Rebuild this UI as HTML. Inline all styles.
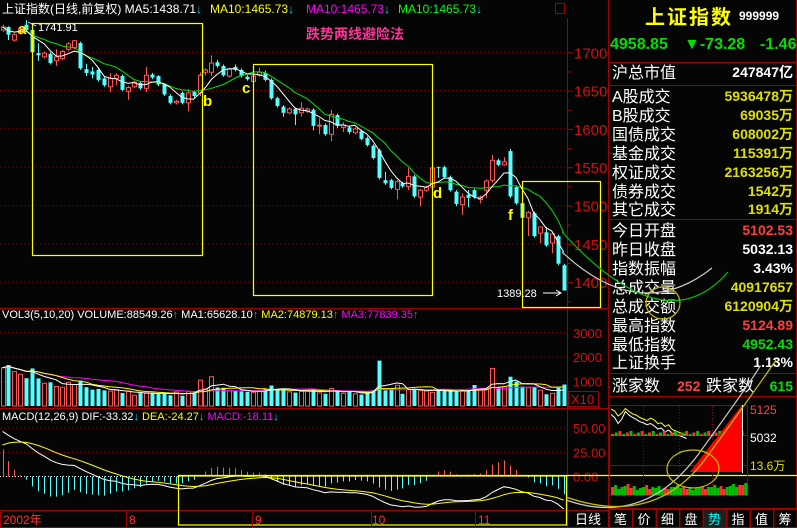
<!DOCTYPE html>
<html><head><meta charset="utf-8">
<style>
html,body{margin:0;padding:0;background:#000;}
svg{display:block;font-family:"Liberation Sans","Noto Sans CJK SC",sans-serif;}
</style></head>
<body>
<svg id="chart" width="797" height="528" viewBox="0 0 797 528" xmlns="http://www.w3.org/2000/svg">
<rect x="0" y="0" width="797" height="528" fill="#050505"/>
<g id="frame" stroke="#a00000" stroke-width="1" fill="none">
  <line x1="0" y1="308.5" x2="608" y2="308.5"/>
  <line x1="0" y1="408.5" x2="608" y2="408.5"/>
  <line x1="0" y1="510.5" x2="608" y2="510.5"/>
  <line x1="0.5" y1="510" x2="0.5" y2="528"/>
  <line x1="567.5" y1="18" x2="567.5" y2="528"/>
  <line x1="608.5" y1="0" x2="608.5" y2="528"/>
  <line x1="796.5" y1="0" x2="796.5" y2="528"/>
  <line x1="0" y1="527.5" x2="797" y2="527.5"/>
</g>
<g id="grid"></g>
<g id="axes"></g>
<g id="candles"></g>
<g id="vol"></g>
<g id="macd"></g>
<g id="lines"></g>

<!-- headers -->
<text x="2" y="13" font-size="12" fill="#ffffff">上证指数(日线,前复权) MA5:1438.71<tspan fill="#00d0ff">↓</tspan></text>
<text x="210" y="13" font-size="12" fill="#ffff00">MA10:1465.73<tspan fill="#00d0ff">↓</tspan></text>
<text x="306" y="13" font-size="12" fill="#ff00ff">MA10:1465.73<tspan fill="#00d0ff">↓</tspan></text>
<text x="398" y="13" font-size="12" fill="#00ff00">MA10:1465.73<tspan fill="#00d0ff">↓</tspan></text>
<rect x="555.5" y="3.5" width="9" height="10" fill="none" stroke="#a00000"/>
<text x="306" y="39" font-size="14" font-weight="bold" fill="#ff3399">跌势两线避险法</text>

<text x="2" y="318" font-size="11" fill="#ffffff">VOL3(5,10,20) VOLUME:88549.26<tspan fill="#ff4040">↑</tspan> MA1:65628.10<tspan fill="#ff4040">↑</tspan> <tspan fill="#ffff00">MA2:74879.13</tspan><tspan fill="#ff4040">↑</tspan> <tspan fill="#ff00ff">MA3:77839.35</tspan><tspan fill="#ff4040">↑</tspan></text>
<text x="2" y="420" font-size="11" fill="#ffffff">MACD(12,26,9) DIF:-33.32<tspan fill="#00d0ff">↓</tspan> <tspan fill="#ffff00">DEA:-24.27</tspan><tspan fill="#00d0ff">↓</tspan> <tspan fill="#ff00ff">MACD:-18.11</tspan><tspan fill="#00d0ff">↓</tspan></text>

<!-- annotations -->
<g fill="none" stroke="#ffff00" stroke-width="1.2">
  <rect x="32.5" y="23.5" width="170" height="232"/>
  <rect x="253.5" y="64.5" width="179" height="231"/>
  <rect x="522.5" y="181.5" width="78" height="126"/>
  <rect x="178.5" y="476" width="388" height="49"/>
  <line x1="178" y1="475.5" x2="797" y2="475.5"/>
</g>
<g font-size="15" font-weight="bold" fill="#ffff00">
  <text x="18" y="34">a</text>
  <text x="203" y="106">b</text>
  <text x="242" y="93">c</text>
  <text x="433" y="198">d</text>
  <text x="508" y="220">f</text>
</g>
<text x="38" y="31" font-size="11" fill="#ffffff">1741.91</text>
<line x1="28" y1="22" x2="36" y2="26" stroke="#fff" stroke-width="0.8"/>
<text x="497" y="297" font-size="11" fill="#ffffff">1389.28</text>
<path d="M543 293 L560 293 M556 290 L561 293 L556 296" stroke="#fff" fill="none"/>

<!-- bottom axis -->
<g font-size="12" fill="#ff3030">
  <text x="3" y="524">2002年</text>
  <text x="129" y="524">8</text>
  <text x="255" y="524">9</text>
  <text x="372" y="524">10</text>
  <text x="478" y="524">11</text>
</g>
<g stroke="#a00000">
  <line x1="126.5" y1="511" x2="126.5" y2="527"/><line x1="252.5" y1="511" x2="252.5" y2="527"/><line x1="371.5" y1="511" x2="371.5" y2="527"/><line x1="475.5" y1="511" x2="475.5" y2="527"/>
</g>
<text x="575" y="524" font-size="13" fill="#ffffff">日线</text>

<!-- right panel -->
<g id="panel">
  <text x="645" y="24" font-size="20" font-weight="bold" fill="#ffff00" letter-spacing="2">上证指数</text>
  <text x="739" y="20" font-size="12" font-weight="bold" fill="#ffffff">999999</text>
  <text x="610" y="49" font-size="16" font-weight="bold" fill="#00e000">4958.85</text>
  <text x="684" y="49" font-size="16" font-weight="bold" fill="#00e000">▼-73.28</text>
  <text x="760" y="49" font-size="16" font-weight="bold" fill="#00e000">-1.46</text>
  <g stroke="#a00000"><line x1="609" y1="62.5" x2="797" y2="62.5"/><line x1="609" y1="85.5" x2="797" y2="85.5"/><line x1="609" y1="219.5" x2="797" y2="219.5"/><line x1="609" y1="373.5" x2="797" y2="373.5"/><line x1="609" y1="396.5" x2="797" y2="396.5"/><line x1="609" y1="508.5" x2="797" y2="508.5"/></g>
  <g id="rows" font-size="16" fill="#ffffff"></g>
  <text x="612" y="391" font-size="16" fill="#ffffff">涨家数</text>
  <text x="677" y="391" font-size="14" font-weight="bold" fill="#ff4040">252</text>
  <text x="706" y="391" font-size="16" fill="#ffffff">跌家数</text>
  <text x="793" y="391" font-size="14" font-weight="bold" fill="#00e000" text-anchor="end">615</text>
  <g id="mini"></g>
  <g id="tabs" font-size="13" fill="#ffffff"></g>
</g>

<!-- freehand drawings -->
<g fill="none" stroke-width="1.2">
  <path d="M562 252 Q640 325 712 268" stroke="#c8c8c8"/>
  <path d="M562 232 Q665 345 728 272" stroke="#00c000"/>
  <ellipse cx="663" cy="303" rx="17" ry="16" stroke="#c8c000"/>
  <path d="M566 500 Q645 528 700 452 T760 366" stroke="#c8c8c8"/>
  <path d="M566 497 Q655 528 706 458 T776 360" stroke="#c8c000"/>
  <ellipse cx="693" cy="469" rx="26" ry="19" stroke="#c8c000"/>
</g>

<script>
const opens =[1729,1733,1716,1725,1736,1729,1699,1694,1698,1689,1692,1704,1706,1712,1678,1675,1677,1666,1655,1666,1669,1649,1655,1660,1653,1671,1669,1658,1643,1634,1647,1634,1648,1647,1674,1674,1687,1682,1669,1681,1677,1668,1662,1670,1673,1664,1640,1629,1621,1626,1621,1623,1625,1604,1605,1593,1618,1602,1602,1595,1597,1588,1578,1572,1533,1533,1521,1529,1525,1538,1511,1520,1524,1550,1550,1537,1518,1501,1514,1520,1508,1520,1533,1559,1553,1571,1524,1503,1484,1490,1464,1465,1451,1460,1422];
const closes=[1733,1723,1723,1731,1729,1700,1696,1699,1686,1694,1701,1711,1715,1679,1673,1671,1664,1657,1666,1670,1651,1654,1661,1653,1670,1667,1658,1645,1634,1636,1634,1647,1643,1670,1677,1686,1682,1670,1678,1677,1669,1665,1669,1674,1664,1640,1630,1621,1626,1619,1627,1626,1604,1605,1593,1619,1604,1605,1596,1600,1587,1579,1562,1536,1529,1523,1531,1525,1538,1512,1520,1524,1549,1549,1537,1520,1502,1511,1510,1511,1511,1532,1559,1553,1557,1512,1503,1484,1491,1460,1472,1448,1463,1424,1389];
const highs =[1736,1734,1725,1733,1742,1731,1712,1701,1700,1704,1703,1713,1716,1714,1685,1681,1679,1668,1673,1673,1671,1656,1663,1662,1681,1673,1670,1660,1645,1638,1649,1652,1650,1674,1679,1696,1690,1684,1680,1684,1679,1670,1671,1680,1676,1666,1642,1631,1628,1628,1635,1628,1627,1614,1607,1625,1620,1609,1604,1602,1599,1590,1580,1574,1544,1535,1533,1531,1549,1540,1522,1526,1550,1551,1552,1539,1520,1516,1520,1522,1513,1534,1566,1561,1563,1574,1526,1505,1493,1492,1472,1472,1465,1462,1424];
const lows  =[1727,1716,1714,1723,1727,1698,1689,1692,1684,1682,1690,1702,1704,1677,1669,1666,1662,1655,1648,1657,1649,1638,1653,1651,1648,1665,1656,1643,1632,1632,1632,1623,1641,1643,1670,1669,1680,1668,1667,1675,1667,1663,1660,1668,1662,1638,1628,1616,1619,1605,1616,1621,1598,1593,1591,1584,1601,1596,1593,1593,1585,1577,1560,1534,1527,1521,1508,1523,1520,1510,1499,1518,1522,1536,1535,1518,1499,1488,1498,1509,1503,1510,1530,1551,1552,1510,1501,1481,1460,1458,1451,1446,1438,1422,1389];
const volumes=[1570,1680,1410,1300,1140,1540,1130,930,970,800,770,970,880,1040,770,670,700,640,610,670,530,610,440,530,540,530,520,520,440,580,420,600,560,1060,700,1200,760,750,640,620,600,580,560,620,700,840,700,680,580,550,600,640,660,540,500,720,650,520,580,500,470,560,650,1860,640,720,850,500,680,700,640,620,560,680,600,610,600,620,650,860,720,700,1540,780,800,1200,1000,800,750,780,650,480,520,750,880];
const priceTicks=[1400,1450,1500,1550,1600,1650,1700];
const volTicks=[1000,2000,3000];
const macdTicks=[0,25,50];
const miniPrice=[5118,5112,5095,5105,5120,5110,5102,5098,5090,5085,5080,5088,5082,5070,5072,5060,5066,5050,5045,5040,5035,5030];
const miniAvg=[5100,5090,5070,5085,5110,5098,5090,5084,5076,5072,5066,5070,5062,5052,5055,5042,5048,5038,5032,5030,5025,5020];
const miniVol=[8,6,9,7,5,8,6,7,5,6,8,7,6,5,7,6,8,7,6,9,8,10];

const NS='http://www.w3.org/2000/svg';
function mk(parent,tag,attrs){const e=document.createElementNS(NS,tag);for(const k in attrs)e.setAttribute(k,attrs[k]);parent.appendChild(e);return e;}
const xC=i=>2.5+i*5.97;
const yP=p=>52.3+(1700-p)*0.766;
const yV=v=>406-v*0.0244;
const yM=m=>476.5-m*0.97;
const RED='#ff5454', CYAN='#54ffff';

const grid=document.getElementById('grid'), axes=document.getElementById('axes');
priceTicks.forEach(p=>{
  const l=mk(grid,'line',{x1:0,x2:567,y1:yP(p),y2:yP(p),stroke:'#900000','stroke-dasharray':'1,3'});
  
  
  const t=mk(axes,'text',{x:574,y:yP(p)+6,'font-size':15,fill:'#d01010'});
  t.textContent=p;
  
  
  mk(axes,'line',{x1:567,x2:573,y1:yP(p)+0.5,y2:yP(p)+0.5,stroke:'#a00000'});
  mk(axes,'line',{x1:567,x2:571,y1:yP(p-25)+0.5,y2:yP(p-25)+0.5,stroke:'#a00000'});
});
volTicks.forEach(v=>{
  const l=mk(grid,'line',{x1:0,x2:567,y1:yV(v),y2:yV(v),stroke:'#900000','stroke-dasharray':'1,3'});
  
  
  const t=mk(axes,'text',{x:573,y:yV(v)+5,'font-size':13,fill:'#d01010'});
  t.textContent=v;
  
  
});
const xb=mk(axes,'rect',{x:568.5,y:391.5,width:30,height:15,fill:'none',stroke:'#a00000'});


const xt=mk(axes,'text',{x:571,y:404,'font-size':13,fill:'#d01010'});
xt.textContent='X10';


macdTicks.forEach(m=>{
  if(m>0){const l=mk(grid,'line',{x1:0,x2:567,y1:yM(m),y2:yM(m),stroke:'#900000','stroke-dasharray':'1,3'});
  
  }
  const t=mk(axes,'text',{x:573,y:yM(m)+5,'font-size':13,fill:'#d01010'});
  t.textContent=m.toFixed(2);
  
  
});
mk(grid,'line',{x1:0,x2:178,y1:476.5,y2:476.5,stroke:'#ffffff','stroke-dasharray':'1,2'});

// candles
const cg=document.getElementById('candles');
closes.forEach((c,i)=>{
  const o=opens[i], up=c>=o, col=up?RED:CYAN, x=Math.round(xC(i));
  const w=mk(cg,'line',{x1:x+0.5,x2:x+0.5,y1:yP(highs[i]),y2:yP(lows[i]),stroke:col});
  
  
  const top=yP(Math.max(o,c)), h=Math.max(1,Math.abs(yP(o)-yP(c)));
  const b=mk(cg,'rect',up?{x:x-1.5,y:top,width:4,height:h,fill:'#050505',stroke:col,'stroke-width':1}:{x:x-1.5,y:top,width:4,height:h,fill:col});
  
  
});

// volume
const vg=document.getElementById('vol');
volumes.forEach((v,i)=>{
  const up=closes[i]>=opens[i], x=Math.round(xC(i));
  const r=mk(vg,'rect',up?{x:x-1.5,y:yV(v),width:4,height:406-yV(v),fill:'none',stroke:RED}:{x:x-1.5,y:yV(v),width:4,height:406-yV(v),fill:CYAN});
  
  
});

function ma(arr,n){return arr.map((_,i)=>{const s=arr.slice(Math.max(0,i-n+1),i+1);return s.reduce((a,b)=>a+b,0)/s.length;});}
function poly(g,vals,yf,col,name){
  const pts=vals.map((v,i)=>xC(i).toFixed(1)+','+yf(v).toFixed(1)).join(' ');
  const p=mk(g,'polyline',{points:pts,fill:'none',stroke:col,'stroke-width':1});
  
  
}
const lg=document.getElementById('lines');
poly(lg,ma(closes,10),yP,'#00e000','ma10-line');
poly(lg,ma(closes,5),yP,'#ffffff','ma5-line');
poly(lg,ma(volumes,20),yV,'#ff00ff','volume-ma20-line');
poly(lg,ma(volumes,10),yV,'#ffff00','volume-ma10-line');
poly(lg,ma(volumes,5),yV,'#ffffff','volume-ma5-line');

// MACD
let e12=1730,e26=1680,dea=29;const dif=[],deaA=[],bars=[];
closes.forEach(c=>{e12=e12*11/13+c*2/13;e26=e26*25/27+c*2/27;const d=e12-e26;dea=dea*0.8+d*0.2;dif.push(d);deaA.push(dea);bars.push(2*(d-dea));});
const mg=document.getElementById('macd');
bars.forEach((b,i)=>{
  const x=Math.round(xC(i))+0.5;
  const l=mk(mg,'line',{x1:x,x2:x,y1:yM(0),y2:yM(b),stroke:b>=0?RED:CYAN});
  
  
});
poly(lg,dif,yM,'#ffffff','dif-line');
poly(lg,deaA,yM,'#ffff00','dea-line');

// panel rows
const rows=[['沪总市值','247847亿','#ffffff',78],['A股成交','5936478万','#e0e000',102],['B股成交','69035万','#e0e000',121],['国债成交','608002万','#e0e000',140],['基金成交','115391万','#e0e000',159],['权证成交','2163256万','#e0e000',178],['债券成交','1542万','#e0e000',197],['其它成交','1914万','#e0e000',215],['今日开盘','5102.53','#ff4040',236],['昨日收盘','5032.13','#ffffff',255],['指数振幅','3.43%','#ffffff',274],['总成交量','40917657','#e0e000',293],['总成交额','6120904万','#e0e000',312],['最高指数','5124.89','#ff4040',331],['最低指数','4952.43','#00e000',350],['上证换手','1.13%','#ffffff',368]];
const rg=document.getElementById('rows');
rows.forEach(r=>{
  const a=mk(rg,'text',{x:612,y:r[3]});a.textContent=r[0];
  
  
  const b=mk(rg,'text',{x:793,y:r[3]-1,'text-anchor':'end','font-size':14,'font-weight':'bold',fill:r[2]});b.textContent=r[1];
  
  
});

// mini chart
const mini=document.getElementById('mini');
mk(mini,'rect',{x:609.5,y:405.5,width:138,height:90,fill:'none',stroke:'#a00000'});
[435.5,465.5].forEach(y=>mk(mini,'line',{x1:609,x2:748,y1:y,y2:y,stroke:'#a00000'}));
[643.5,679.5,712.5].forEach(x=>mk(mini,'line',{x1:x,x2:x,y1:406,y2:495,stroke:'#a00000','stroke-dasharray':'1,2'}));
const mx=i=>611+i*3.6, my=p=>407+(5125-p)*0.3;
const mp=mk(mini,'polyline',{points:miniPrice.map((p,i)=>mx(i)+','+my(p)).join(' '),fill:'none',stroke:'#ffff00'});


const ma2=mk(mini,'polyline',{points:miniAvg.map((p,i)=>mx(i)+','+my(p)).join(' '),fill:'none',stroke:'#ffffff'});


for(let i=0;i<36;i++){mk(mini,'rect',{x:611+i*3.7,y:434-(i%3)*1.5,width:3,height:2+(i%3)*1.5,fill:i%2?'#00c000':'#ff3030'});}
miniVol.forEach((v,i)=>{for(let k=0;k<2;k++){mk(mini,'rect',{x:611+(i*2+k)*3.1,y:495-v-k*2,width:3,height:v+k*2,fill:(i+k)%3?'#00c000':'#ff3030'});}});
const tri=mk(mini,'polygon',{points:'690,472 742,405 742,472',fill:'#ff0000'});


mk(mini,'line',{x1:742.5,x2:742.5,y1:405,y2:473,stroke:'#ffffff'});
[['5125','#ff4040',414],['5032','#ffffff',442],['13.6万','#e0e000',470]].forEach(l=>{
  const t=mk(mini,'text',{x:750,y:l[2],'font-size':12,fill:l[1]});t.textContent=l[0];
  
  
});

// tabs
const tg=document.getElementById('tabs');
['笔','价','细','盘','势','指','值','筹'].forEach((s,i)=>{
  const x=609+i*23.5;
  const r=mk(tg,'rect',{x:x+0.5,y:509.5,width:23,height:18,fill:i===4?'#202020':'#050505',stroke:'#a00000'});
  
  
  const t=mk(tg,'text',{x:x+5,y:524,fill:i===4?'#00ffff':'#ffffff'});t.textContent=s;
  
  
});
</script>
</svg>
</body></html>
